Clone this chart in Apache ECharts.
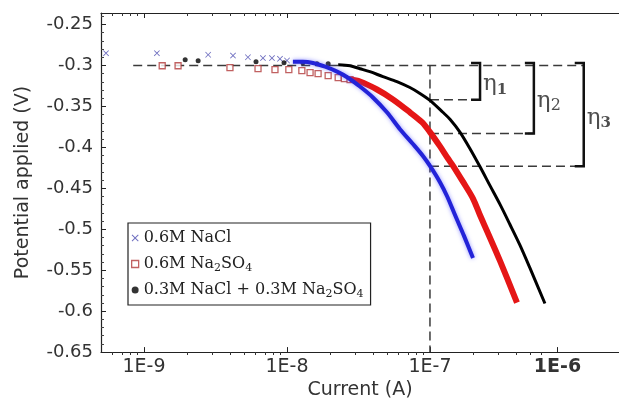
<!DOCTYPE html>
<html>
<head>
<meta charset="utf-8">
<script src="https://cdn.jsdelivr.net/npm/echarts@6/dist/echarts.min.js"></script>
<style>
  html, body { margin: 0; padding: 0; background: #fff; }
  #chart { width: 619px; height: 405px; }
</style>
</head>
<body>
<div id="chart"></div>
<script>
// Cathodic polarisation curves: potential applied vs current (log axis)
const seriesNames = ['0.6M NaCl', '0.6M Na2SO4', '0.3M NaCl + 0.3M Na2SO4'];

// x axis (current, A)
const xMinCurrent = 5e-10;
const xMaxCurrent = 2.1e-6;
const xTickLabels = ['1E-9', '1E-8', '1E-7', '1E-6'];
const xTickValues = [1e-9, 1e-8, 1e-7, 7.8e-7]; // in the source the 1E-6 label sits at the axis break

// y axis (potential, V)
const yMin = -0.65;
const yMax = -0.236;
const yStep = 0.05;

// 0.6M NaCl: scattered points at low current, then the dense curve
const naclSparseI = [5.42e-10, 1.23e-9, 2.81e-9, 4.19e-9, 5.33e-9, 6.79e-9, 7.85e-9, 8.93e-9, 1.0e-8];
const naclSparseV = [-0.285, -0.285, -0.287, -0.288, -0.290, -0.291, -0.291, -0.292, -0.294];
const naclI = [1.10e-8, 1.29e-8, 1.52e-8, 1.85e-8, 2.24e-8, 2.67e-8, 3.24e-8, 3.99e-8, 5.00e-8, 6.17e-8,
  7.60e-8, 8.93e-8, 1.00e-7, 1.17e-7, 1.32e-7, 1.50e-7, 1.73e-7, 2.00e-7];
const naclV = [-0.2955, -0.2955, -0.297, -0.3016, -0.3076, -0.315, -0.3258, -0.3391, -0.3572, -0.3778,
  -0.3959, -0.4105, -0.4226, -0.4419, -0.46, -0.483, -0.5081, -0.535];

// 0.6M Na2SO4
const sulfSparseI = [1.34e-9, 1.73e-9, 3.99e-9, 6.27e-9, 8.24e-9, 1.03e-8, 1.27e-8, 1.45e-8, 1.65e-8, 1.94e-8,
  2.28e-8, 2.52e-8, 2.76e-8];
const sulfSparseV = [-0.3004, -0.3004, -0.3028, -0.304, -0.3052, -0.3052, -0.3064, -0.3088, -0.31, -0.3125,
  -0.3149, -0.316, -0.3173];
const sulfI = [2.76e-8, 3.24e-8, 4.26e-8, 5.51e-8, 7.24e-8, 8.79e-8, 1.00e-7, 1.17e-7, 1.34e-7,
  1.45e-7, 1.70e-7, 2.00e-7, 2.24e-7, 2.51e-7, 3.09e-7, 4.06e-7];
const sulfV = [-0.3173, -0.3197, -0.3294, -0.3415, -0.3572, -0.3693, -0.3814, -0.3983, -0.414,
  -0.4225, -0.4419, -0.4625, -0.483, -0.5024, -0.5387, -0.5895];

// 0.3M NaCl + 0.3M Na2SO4
const mixSparseI = [1.94e-9, 2.39e-9, 6.07e-9, 9.53e-9, 1.29e-8, 1.62e-8, 1.94e-8];
const mixSparseV = [-0.2931, -0.2943, -0.2955, -0.2967, -0.2967, -0.2979, -0.2979];
const mixI = [2.28e-8, 2.76e-8, 3.24e-8, 3.80e-8, 4.69e-8, 5.87e-8, 7.24e-8, 8.51e-8, 1.00e-7, 1.23e-7,
  1.38e-7, 1.62e-7, 1.91e-7, 2.24e-7, 2.63e-7, 3.09e-7, 3.62e-7, 4.26e-7, 5.00e-7, 6.37e-7];
const mixV = [-0.2992, -0.3004, -0.304, -0.3076, -0.3137, -0.3197, -0.327, -0.3342, -0.3427, -0.3572,
  -0.3657, -0.3814, -0.402, -0.4238, -0.4468, -0.4697, -0.4939, -0.5194, -0.5472, -0.5907];

// overpotential construction
const refPotential = -0.3;
const refLineStart = 8.4e-10;
const refCurrent = 1e-7;
const etaPotential = [-0.342, -0.383, -0.423];
const bracketCurrent = [2.24e-7, 5.33e-7, 1.19e-6];
const bracketTop = -0.297;
const etaSubs = ['1', '2', '3'];

const lg = Math.log10;
const pts = (I, V) => I.map((c, i) => [lg(c), V[i]]);

const majorTicks = [1e-9, 1e-8, 1e-7].map(lg);
const minorTicks = [];
for (let d = -10; d <= -7; d++) {
  for (let m = 2; m <= 9; m++) {
    const v = m * Math.pow(10, d);
    if (v > xMinCurrent && v < 6.5e-7) minorTicks.push(lg(v));
  }
}

const crossPath = 'path://M0,1L1,0L5,4L9,0L10,1L6,5L10,9L9,10L5,6L1,10L0,9L4,5Z';
const subText = s => s.replace('Na2SO4', 'Na{s|2}SO{s|4}');

const xBase = {
  type: 'value', min: lg(xMinCurrent), max: lg(xMaxCurrent),
  splitLine: { show: false }
};

const chart = echarts.init(document.getElementById('chart'));

const dashStyle = { color: '#3a3a3a', width: 1.5, type: [9, 5] };
const refLines = [
  [[lg(refLineStart), refPotential], [lg(bracketCurrent[2]), refPotential]],
  [[lg(refCurrent), refPotential], [lg(refCurrent), yMin]]
].concat(etaPotential.map((v, i) => [[lg(refCurrent), v], [lg(bracketCurrent[i]), v]]));

const brackets = bracketCurrent.map((c, i) => {
  const x = lg(c);
  return [[x - 0.063, bracketTop], [x, bracketTop], [x, etaPotential[i]], [x - 0.063, etaPotential[i]]];
});

const option = {
  animation: false,
  grid: [
    { left: 101, right: 0, top: 13, bottom: 50 },
    { left: 101, right: 0, top: 13, bottom: 50 }
  ],
  xAxis: [
    Object.assign({}, xBase, {
      gridIndex: 0, position: 'bottom',
      axisLine: { lineStyle: { color: '#222', width: 1.2 } },
      axisTick: { inside: true, length: 5, customValues: majorTicks.concat([lg(xTickValues[3])]), lineStyle: { color: '#222' } },
      axisLabel: {
        customValues: xTickValues.map(lg),
        color: '#333', fontFamily: 'DejaVu Sans', fontSize: 19, margin: 5,
        formatter: v => {
          const i = xTickValues.findIndex(t => Math.abs(lg(t) - v) < 1e-6);
          if (i < 0) return '';
          return i === 3 ? '{b|' + xTickLabels[i] + '}' : xTickLabels[i];
        },
        rich: { b: { fontFamily: 'DejaVu Sans', fontSize: 19, fontWeight: 'bold', color: '#333' } }
      },
      name: 'Current (A)', nameLocation: 'middle', nameGap: 28,
      nameTextStyle: { color: '#333', fontFamily: 'DejaVu Sans', fontSize: 19 }
    }),
    Object.assign({}, xBase, {
      gridIndex: 0, position: 'top',
      axisLine: { lineStyle: { color: '#222', width: 1.2 } },
      axisTick: { inside: true, length: 5, customValues: majorTicks, lineStyle: { color: '#222' } },
      axisLabel: { show: false }
    }),
    Object.assign({}, xBase, {
      gridIndex: 1, position: 'bottom',
      axisLine: { show: false },
      axisTick: { inside: true, length: 3, customValues: minorTicks, lineStyle: { color: '#333' } },
      axisLabel: { show: false }
    }),
    Object.assign({}, xBase, {
      gridIndex: 1, position: 'top',
      axisLine: { show: false },
      axisTick: { inside: true, length: 3, customValues: minorTicks, lineStyle: { color: '#333' } },
      axisLabel: { show: false }
    })
  ],
  yAxis: [
    {
      gridIndex: 0, type: 'value', min: yMin, max: yMax, interval: yStep,
      axisLine: { show: true, lineStyle: { color: '#222', width: 1.2 } },
      axisTick: { inside: true, length: 5, lineStyle: { color: '#222' } },
      minorTick: { show: true, splitNumber: 5, length: 3, lineStyle: { color: '#444' } },
      splitLine: { show: false },
      axisLabel: { showMaxLabel: false, color: '#333', fontFamily: 'DejaVu Sans', fontSize: 18, margin: 8 },
      name: 'Potential applied (V)', nameLocation: 'middle', nameGap: 68,
      nameTextStyle: { color: '#333', fontFamily: 'DejaVu Sans', fontSize: 19 }
    },
    { gridIndex: 1, type: 'value', min: yMin, max: yMax, show: false }
  ],
  legend: {
    orient: 'vertical', left: 128, top: 223,
    padding: [5, 7, 5, 3], itemGap: 6,
    itemWidth: 7, itemHeight: 7,
    backgroundColor: '#fff', borderColor: '#222', borderWidth: 1.2,
    selectedMode: false,
    data: [
      { name: seriesNames[0], icon: crossPath, itemStyle: { color: '#4b4bb0' } },
      { name: seriesNames[1], icon: 'rect', itemStyle: { color: '#fff', borderColor: '#b23a3a', borderWidth: 1.3 } },
      { name: seriesNames[2], icon: 'circle', itemStyle: { color: '#000' } }
    ],
    formatter: subText,
    textStyle: {
      fontFamily: 'DejaVu Serif', fontSize: 16, color: '#222', lineHeight: 20,
      rich: { s: { fontFamily: 'DejaVu Serif', fontSize: 11, lineHeight: 10, verticalAlign: 'bottom', color: '#222' } }
    }
  },
  series: [
    {
      name: seriesNames[0], type: 'scatter', data: pts(naclSparseI, naclSparseV),
      symbol: crossPath, symbolSize: 6, itemStyle: { color: '#4b4bb0' }, z: 3
    },
    {
      name: seriesNames[1], type: 'scatter', data: pts(sulfSparseI, sulfSparseV),
      symbol: 'rect', symbolSize: 6,
      itemStyle: { color: '#fff', borderColor: '#b23a3a', borderWidth: 1.3 }, z: 3
    },
    {
      name: seriesNames[2], type: 'scatter', data: pts(mixSparseI, mixSparseV),
      symbol: 'circle', symbolSize: 5, itemStyle: { color: '#000' }, z: 3
    },
    {
      name: seriesNames[1], type: 'line', data: pts(sulfI, sulfV), showSymbol: false, smooth: 0.3,
      lineStyle: { color: '#e51616', width: 6 }, itemStyle: { color: '#e51616' }, z: 4
    },
    {
      name: seriesNames[0], type: 'line', data: pts(naclI, naclV), showSymbol: false, smooth: 0.3,
      lineStyle: { color: '#2323d8', width: 4, shadowColor: 'rgba(80,80,255,0.6)', shadowBlur: 4 },
      itemStyle: { color: '#2323d8' }, z: 5
    },
    {
      name: seriesNames[2], type: 'line', data: pts(mixI, mixV), showSymbol: false, smooth: 0.3,
      lineStyle: { color: '#000', width: 3 }, itemStyle: { color: '#000' }, z: 5
    }
  ].concat(refLines.map(d => ({
    type: 'line', data: d, symbol: 'none', silent: true, lineStyle: dashStyle, z: 2
  }))).concat(brackets.map(d => ({
    type: 'line', data: d, symbol: 'none', silent: true,
    lineStyle: { color: '#111', width: 2.5, join: 'miter' }, z: 2
  }))).concat([{
    type: 'scatter', silent: true, symbolSize: 0,
    data: bracketCurrent.map((c, i) => [lg(c), (bracketTop + etaPotential[i]) / 2]),
    label: {
      show: true, position: 'right', distance: 3, offset: [0, 3],
      formatter: p => '{e|η}{' + (p.dataIndex === 1 ? 'n' : 'k') + '|' + etaSubs[p.dataIndex] + '}',
      rich: {
        e: { fontFamily: 'DejaVu Serif', fontSize: 23, lineHeight: 26, color: '#222' },
        k: { fontFamily: 'DejaVu Serif', fontSize: 15, fontWeight: 'bold', lineHeight: 12, verticalAlign: 'bottom', color: '#222' },
        n: { fontFamily: 'DejaVu Serif', fontSize: 16, lineHeight: 12, verticalAlign: 'bottom', color: '#222' }
      }
    }
  }])
};

chart.setOption(option);
</script>
</body>
</html>
